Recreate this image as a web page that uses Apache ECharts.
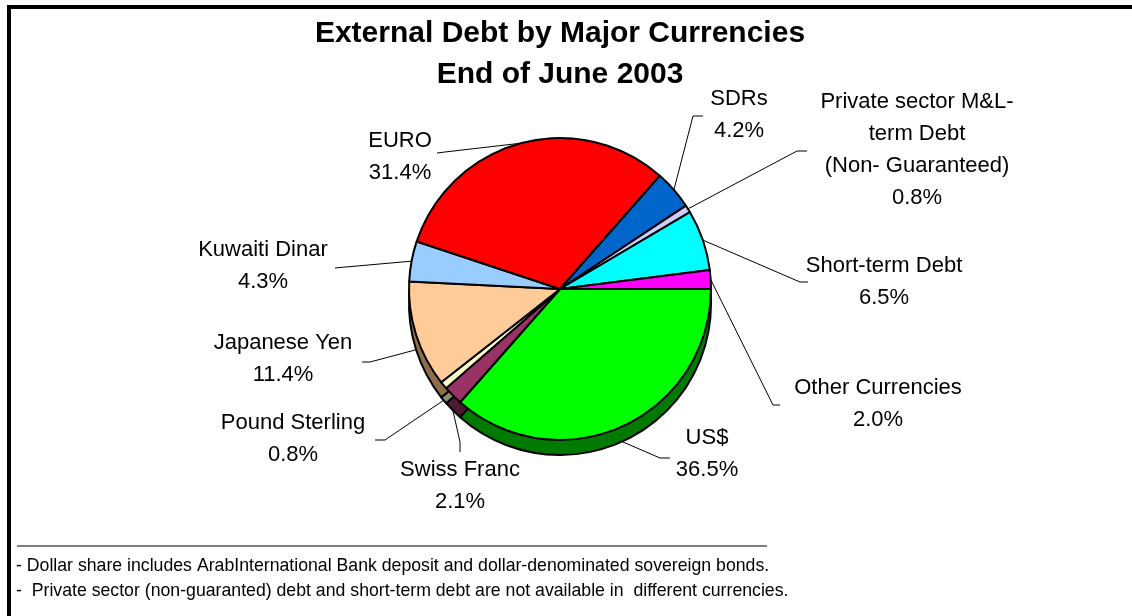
<!DOCTYPE html>
<html>
<head>
<meta charset="utf-8">
<script src="https://cdn.jsdelivr.net/npm/echarts@6/dist/echarts.min.js"></script>
<style>
  html, body { margin: 0; padding: 0; background: #ffffff; }
  #chart { width: 1132px; height: 616px; }
</style>
</head>
<body>
<div id="chart"></div>
<script>
// Currency shares of external debt, clockwise from 3 o'clock
const categories = [
  'US$',
  'Swiss Franc',
  'Pound Sterling',
  'Japanese Yen',
  'Kuwaiti Dinar',
  'EURO',
  'SDRs',
  'Private sector M&L-\nterm Debt\n(Non- Guaranteed)',
  'Short-term Debt',
  'Other Currencies'
];
const shares = [36.5, 2.1, 0.8, 11.4, 4.3, 31.4, 4.2, 0.8, 6.5, 2.0];

const titleLines = ['External Debt by Major Currencies', 'End of June 2003'];
const footnotes = [
  '- Dollar share includes ArabInternational Bank deposit and dollar-denominated sovereign bonds.',
  '-  Private sector (non-guaranted) debt and short-term debt are not available in  different currencies.'
];

// Slice styling: top face and the darker rim below it
const faceColors = ['#00ff00', '#993366', '#ffffcc', '#ffcc99', '#99ccff',
                    '#ff0000', '#0066cc', '#ccccff', '#00ffff', '#ff00ff'];
const sideColors = ['#007a00', '#4d1a33', '#8c8c66', '#8c6e4e', '#4d6680',
                    '#800000', '#003366', '#666680', '#008080', '#800080'];

// Pie geometry
const PIE_CX = 560, PIE_CY = 289, PIE_R = 151, DEPTH = 15;

// Where each label block sits and how its leader line bends
const labelPlacement = [
  { c: [707, 454], bend: [660, 458], end: [670, 458] },   // US$
  { c: [460, 486], bend: [460, 442], end: [460, 452] },   // Swiss Franc
  { c: [293, 439], bend: [385, 440], end: [375, 440] },   // Pound Sterling
  { c: [283, 359], bend: [370, 362], end: [362, 362] },   // Japanese Yen
  { c: [263, 266], bend: [340, 267.5], end: [335, 268] }, // Kuwaiti Dinar
  { c: [400, 157], bend: [445, 152], end: [437, 153] },   // EURO
  { c: [739, 115], bend: [693, 116], end: [703, 116] },   // SDRs
  { c: [917, 150], bend: [797, 151], end: [807, 151] },   // Private sector
  { c: [884, 282], bend: [800, 282], end: [808, 282] },   // Short-term Debt
  { c: [878, 404], bend: [773, 405], end: [780, 405] }    // Other Currencies
];

const total = shares.reduce((a, b) => a + b, 0);
function midAngle(i) {
  let before = 0;
  for (let k = 0; k < i; k++) before += shares[k];
  return ((before + shares[i] / 2) / total) * Math.PI * 2; // clockwise from east
}

const faceData = categories.map((name, i) => ({
  name: name, value: shares[i], itemStyle: { color: faceColors[i] }
}));
const sideData = categories.map((name, i) => ({
  name: name, value: shares[i], itemStyle: { color: sideColors[i] }
}));

const chart = echarts.init(document.getElementById('chart'), null, { renderer: 'canvas' });

chart.setOption({
  backgroundColor: '#ffffff',
  animation: false,
  graphic: [
    { type: 'rect', shape: { x: 7, y: 5, width: 1125, height: 4 }, style: { fill: '#000' } },
    { type: 'rect', shape: { x: 7, y: 5, width: 4, height: 611 }, style: { fill: '#000' } },
    {
      type: 'text', x: 560, y: 13,
      style: {
        text: titleLines.join('\n'), fill: '#000',
        font: 'bold 30px "Liberation Sans", Arial, sans-serif',
        align: 'center', verticalAlign: 'top', lineHeight: 41
      }
    },
    { type: 'line', shape: { x1: 17, y1: 546, x2: 767, y2: 546 }, style: { stroke: '#000', lineWidth: 1 } },
    {
      type: 'text', x: 16, y: 566,
      style: { text: footnotes[0], fill: '#000', font: '17.7px "Liberation Sans", Arial, sans-serif', verticalAlign: 'middle' }
    },
    {
      type: 'text', x: 16, y: 591,
      style: { text: footnotes[1], fill: '#000', font: '17.7px "Liberation Sans", Arial, sans-serif', verticalAlign: 'middle' }
    }
  ],
  series: [
    {
      // rim of the disc, shifted down under the top face
      type: 'pie',
      silent: true,
      center: [PIE_CX, PIE_CY + DEPTH],
      radius: PIE_R,
      startAngle: 0,
      clockwise: true,
      label: { show: false },
      labelLine: { show: false },
      itemStyle: { borderColor: '#000', borderWidth: 2 },
      data: sideData
    },
    {
      type: 'pie',
      center: [PIE_CX, PIE_CY],
      radius: PIE_R,
      startAngle: 0,
      clockwise: true,
      itemStyle: { borderColor: '#000', borderWidth: 2 },
      label: {
        show: true,
        position: 'outside',
        color: '#000',
        fontSize: 22,
        lineHeight: 32,
        fontFamily: '"Liberation Sans", Arial, sans-serif',
        formatter: p => p.name + '\n' + p.value.toFixed(1) + '%'
      },
      labelLine: { show: true, length: 20, length2: 10, lineStyle: { color: '#000', width: 1 } },
      labelLayout: function (params) {
        const i = params.dataIndex;
        const pl = labelPlacement[i];
        const a = midAngle(i);
        const sx = PIE_CX + PIE_R * Math.cos(a);
        let sy = PIE_CY + PIE_R * Math.sin(a);
        if (Math.sin(a) > 0.05) sy += DEPTH; // lines on the lower half leave from the rim
        return {
          x: pl.c[0], y: pl.c[1],
          align: 'center', verticalAlign: 'middle',
          labelLinePoints: [[sx, sy], pl.bend, pl.end]
        };
      },
      data: faceData
    }
  ]
});
</script>
</body>
</html>
